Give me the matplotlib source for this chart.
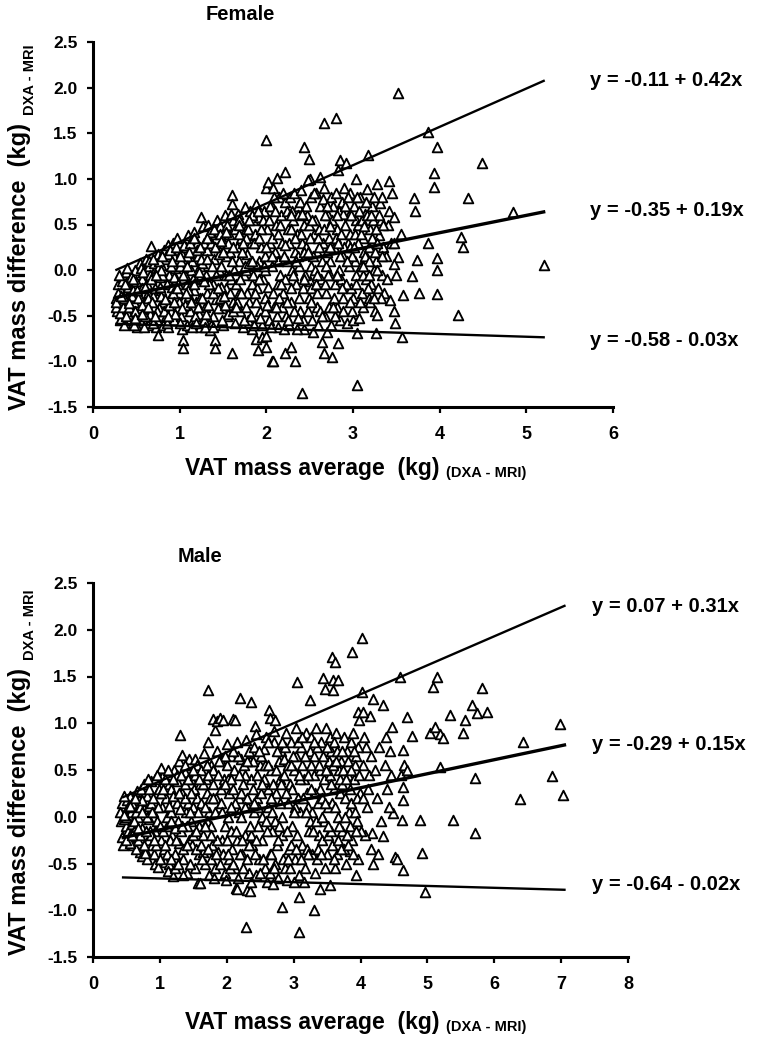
import matplotlib
matplotlib.use('Agg')
import matplotlib.pyplot as plt

plt.rcParams['font.family'] = ['Liberation Sans', 'DejaVu Sans']
plt.rcParams['font.weight'] = 'bold'

# Female: (VAT mass average, VAT mass difference)
female_pts = [
    (0.27,-0.30),(0.28,-0.45),(0.30,-0.38),(0.32,-0.22),(0.29,-0.15),(0.33,-0.50),(0.35,-0.08),(0.31,-0.55),(0.34,-0.33),(0.27,-0.40),
    (0.37,-0.25),(0.39,-0.42),(0.41,-0.12),(0.43,-0.55),(0.38,-0.02),(0.42,-0.32),(0.44,-0.20),(0.40,-0.48),(0.36,-0.60),(0.45,-0.05),
    (0.47,-0.35),(0.49,-0.18),(0.52,-0.50),(0.54,0.08),(0.50,-0.05),(0.46,-0.58),(0.53,-0.28),(0.55,-0.42),(0.48,0.00),(0.51,-0.62),
    (0.57,-0.10),(0.59,-0.45),(0.61,0.12),(0.63,-0.25),(0.58,-0.55),(0.60,-0.35),(0.62,-0.02),(0.64,-0.60),(0.56,-0.20),(0.65,0.05),
    (0.67,0.26),(0.68,-0.15),(0.70,-0.40),(0.72,0.10),(0.74,-0.55),(0.69,-0.28),(0.71,0.00),(0.73,-0.62),(0.66,-0.48),(0.75,0.18),(0.75,-0.71),
    (0.77,-0.08),(0.78,0.06),(0.80,-0.35),(0.82,0.22),(0.84,-0.50),(0.79,-0.22),(0.81,-0.60),(0.83,0.12),(0.76,-0.42),(0.85,-0.15),
    (0.87,0.28),(0.89,-0.30),(0.92,0.30),(0.94,-0.55),(0.88,-0.05),(0.90,-0.45),(0.93,0.15),(0.86,-0.62),(0.91,-0.18),(0.95,0.02),
    (0.97,0.35),(0.99,-0.25),(1.01,0.20),(1.03,-0.65),(1.04,-0.77),(1.04,-0.85),(0.98,-0.40),(1.00,0.05),(1.02,-0.50),(0.96,-0.10),(1.05,-0.32),
    (1.07,0.25),(1.10,0.39),(1.12,-0.45),(1.14,0.10),(1.08,-0.15),(1.09,-0.60),(1.11,-0.28),(1.13,0.00),(1.06,-0.05),(1.15,-0.55),
    (1.17,0.42),(1.19,-0.35),(1.21,0.15),(1.23,-0.62),(1.18,-0.10),(1.20,0.30),(1.22,-0.48),(1.24,0.05),(1.16,-0.22),(1.25,0.58),
    (1.27,0.48),(1.29,-0.40),(1.31,0.22),(1.33,0.50),(1.28,-0.55),(1.30,-0.05),(1.32,-0.25),(1.34,0.35),(1.26,0.08),(1.35,-0.66),
    (1.37,0.40),(1.39,-0.15),(1.41,-0.77),(1.41,-0.85),(1.43,0.55),(1.38,-0.50),(1.40,0.12),(1.42,-0.32),(1.44,0.25),(1.36,-0.60),(1.45,0.00),
    (1.47,0.48),(1.49,-0.42),(1.51,0.30),(1.53,-0.20),(1.48,0.05),(1.50,-0.60),(1.52,0.60),(1.54,0.15),(1.46,-0.30),(1.55,-0.50),
    (1.60,0.82),(1.60,0.72),(1.60,-0.91),(1.57,0.40),(1.59,-0.10),(1.62,0.55),(1.64,-0.58),(1.58,0.20),(1.61,-0.35),(1.63,0.00),(1.56,-0.48),
    (1.67,0.62),(1.69,-0.25),(1.71,0.35),(1.73,-0.62),(1.75,0.69),(1.68,0.10),(1.70,-0.45),(1.72,0.50),(1.74,-0.05),(1.66,0.25),
    (1.77,0.45),(1.79,-0.55),(1.81,0.65),(1.83,-0.15),(1.78,0.18),(1.80,-0.35),(1.82,0.30),(1.84,-0.65),(1.76,0.00),(1.85,0.55),
    (1.88,0.73),(1.88,-0.75),(1.90,-0.88),(1.95,-0.73),(1.87,0.40),(1.89,-0.20),(1.91,0.58),(1.93,-0.45),(1.92,0.10),(1.94,0.25),(1.86,-0.60),
    (2.00,1.43),(2.00,0.90),(2.02,0.97),(2.06,-1.00),(2.00,-0.72),(2.00,-0.84),(1.97,0.65),(1.99,-0.30),(2.01,0.45),(2.03,-0.55),(1.98,0.15),(2.04,0.30),(1.96,-0.10),
    (2.08,0.90),(2.08,-1.00),(2.12,1.01),(2.07,0.70),(2.09,-0.40),(2.11,0.50),(2.13,-0.62),(2.10,0.20),(2.14,-0.15),(2.06,0.05),(2.15,0.80),
    (2.22,1.08),(2.22,-0.91),(2.17,0.60),(2.19,-0.25),(2.21,0.75),(2.23,-0.50),(2.18,0.30),(2.20,-0.65),(2.24,0.10),(2.16,-0.05),(2.25,0.45),
    (2.28,-0.84),(2.33,-1.00),(2.27,0.80),(2.29,-0.35),(2.31,0.55),(2.33,0.20),(2.26,-0.60),(2.30,0.00),(2.32,0.85),(2.34,-0.15),(2.35,0.40),
    (2.41,-1.35),(2.43,1.35),(2.37,0.70),(2.39,-0.45),(2.41,0.30),(2.43,-0.65),(2.38,0.05),(2.40,0.88),(2.42,-0.20),(2.44,0.50),(2.36,0.15),
    (2.49,1.22),(2.50,1.00),(2.48,0.99),(2.47,0.60),(2.49,-0.30),(2.51,0.80),(2.53,-0.55),(2.46,0.25),(2.52,0.05),(2.54,-0.68),(2.55,0.40),(2.50,-0.12),
    (2.66,1.61),(2.62,1.02),(2.64,-0.79),(2.57,0.85),(2.59,-0.40),(2.61,0.45),(2.63,-0.10),(2.58,0.20),(2.60,-0.60),(2.62,0.70),(2.56,0.00),(2.65,0.30),
    (2.66,-0.91),(2.70,-0.68),(2.67,0.90),(2.69,-0.25),(2.71,0.60),(2.73,0.10),(2.68,-0.50),(2.72,0.35),(2.74,-0.05),(2.75,0.80),(2.70,0.20),
    (2.80,1.67),(2.83,1.10),(2.85,1.21),(2.76,-0.95),(2.83,-0.80),(2.82,-0.40),(2.77,0.70),(2.79,-0.15),(2.81,0.45),(2.84,0.00),(2.78,0.25),(2.85,-0.55),(2.80,0.85),
    (2.92,1.17),(2.87,0.75),(2.89,-0.30),(2.91,0.50),(2.93,-0.58),(2.88,0.15),(2.90,0.90),(2.94,0.30),(2.86,-0.10),(2.95,0.60),
    (3.03,1.00),(3.05,-0.69),(3.05,-1.26),(2.97,0.40),(2.99,-0.45),(3.01,0.70),(3.02,0.10),(2.98,-0.20),(3.04,0.55),(2.96,0.85),(3.00,-0.55),
    (3.07,-0.52),(3.08,0.80),(3.10,-0.25),(3.12,0.35),(3.14,0.62),(3.09,0.05),(3.11,-0.40),(3.13,0.20),(3.06,0.50),(3.15,-0.10),
    (3.17,1.26),(3.16,0.89),(3.18,-0.30),(3.20,0.45),(3.22,0.70),(3.24,0.00),(3.19,0.25),(3.21,-0.15),(3.23,0.55),(3.25,-0.45),
    (3.26,-0.69),(3.28,-0.49),(3.28,0.94),(3.31,0.74),(3.30,0.38),(3.27,0.10),(3.29,-0.20),(3.32,0.55),(3.34,0.80),(3.33,-0.05),(3.35,0.25),
    (3.41,0.98),(3.45,0.85),(3.40,0.50),(3.43,-0.33),(3.38,0.15),(3.36,-0.25),(3.42,0.65),(3.39,-0.10),(3.44,0.30),
    (3.52,1.94),(3.47,0.58),(3.47,0.30),(3.52,0.14),(3.47,0.07),(3.50,-0.05),(3.47,-0.45),(3.49,-0.58),(3.56,-0.73),(3.58,-0.27),(3.55,0.40),
    (3.70,0.79),(3.72,0.65),(3.74,0.11),(3.68,-0.06),(3.76,-0.25),(3.87,1.51),(3.97,1.35),(3.93,1.06),(3.93,0.91),(3.87,0.30),
    (3.97,0.13),(3.97,0.00),(3.97,-0.26),(4.21,-0.49),(4.25,0.36),(4.27,0.25),(4.33,0.79),(4.49,1.17),(4.85,0.64),(5.20,0.06),
    # second layer of the dense core
    (0.26,-0.35),(0.29,-0.25),(0.31,-0.47),(0.33,-0.12),(0.35,-0.40),(0.30,-0.05),
    (0.36,-0.30),(0.38,-0.50),(0.40,-0.18),(0.42,-0.40),(0.44,-0.08),(0.45,-0.28),(0.39,0.02),
    (0.46,-0.22),(0.48,-0.45),(0.50,-0.12),(0.52,-0.30),(0.54,-0.55),(0.55,0.02),(0.47,-0.60),
    (0.56,-0.38),(0.58,-0.02),(0.60,-0.50),(0.62,-0.15),(0.64,-0.30),(0.65,0.10),(0.59,-0.62),
    (0.66,-0.05),(0.68,-0.35),(0.70,0.08),(0.72,-0.20),(0.74,-0.45),(0.75,0.02),(0.69,-0.58),
    (0.76,0.10),(0.78,-0.28),(0.80,-0.05),(0.82,-0.45),(0.84,0.15),(0.85,-0.58),(0.79,0.00),
    (0.86,0.18),(0.88,-0.38),(0.90,0.05),(0.92,-0.25),(0.94,-0.08),(0.95,-0.48),(0.89,0.22),
    (0.96,0.25),(0.98,-0.15),(1.00,-0.58),(1.02,0.10),(1.04,-0.05),(1.05,0.28),(0.99,-0.35),
    (1.06,-0.38),(1.08,0.15),(1.10,-0.22),(1.12,0.30),(1.14,-0.62),(1.15,-0.10),(1.09,0.05),
    (1.16,0.35),(1.18,-0.50),(1.20,0.22),(1.22,-0.02),(1.24,-0.30),(1.25,0.12),(1.19,-0.58),
    (1.26,-0.30),(1.28,0.30),(1.30,-0.48),(1.32,0.12),(1.34,-0.15),(1.35,0.42),(1.29,-0.62),
    (1.36,0.30),(1.38,-0.25),(1.40,0.45),(1.42,-0.05),(1.44,-0.42),(1.45,0.18),(1.39,-0.62),
    (1.46,0.40),(1.48,-0.18),(1.50,0.20),(1.52,-0.38),(1.54,-0.05),(1.55,0.50),(1.49,-0.55),
    (1.56,0.30),(1.58,-0.25),(1.60,0.10),(1.62,-0.45),(1.64,0.45),(1.65,-0.15),(1.59,0.62),
    (1.66,-0.35),(1.68,0.40),(1.70,-0.10),(1.72,0.20),(1.74,-0.55),(1.75,0.05),(1.69,0.55),
    (1.76,0.35),(1.78,-0.25),(1.80,0.08),(1.82,-0.50),(1.84,0.60),(1.85,-0.05),(1.79,0.45),
    (1.86,0.30),(1.88,-0.35),(1.90,0.65),(1.92,-0.10),(1.94,0.45),(1.95,-0.60),(1.89,0.05),
    (1.96,0.55),(1.98,-0.45),(2.00,0.25),(2.02,-0.18),(2.04,0.70),(2.05,-0.62),(1.99,0.00),
    (2.06,0.35),(2.08,-0.25),(2.10,0.65),(2.12,-0.50),(2.14,0.10),(2.15,-0.30),(2.09,0.80),
    (2.16,0.50),(2.18,-0.40),(2.20,0.15),(2.22,-0.10),(2.24,0.65),(2.25,-0.55),(2.19,0.85),
    (2.26,0.30),(2.28,-0.20),(2.30,0.65),(2.32,-0.45),(2.34,0.10),(2.35,-0.65),(2.29,0.45),
    (2.36,0.60),(2.38,-0.30),(2.40,0.40),(2.42,-0.55),(2.44,0.20),(2.45,-0.05),(2.39,0.75),
    (2.46,0.70),(2.48,-0.45),(2.50,0.35),(2.52,-0.20),(2.54,0.15),(2.55,0.85),(2.49,0.50),
    (2.56,0.55),(2.58,-0.25),(2.60,0.35),(2.62,-0.45),(2.64,0.10),(2.65,0.78),(2.59,-0.05),
    (2.66,0.45),(2.68,-0.15),(2.70,0.70),(2.72,-0.40),(2.74,0.25),(2.75,-0.60),(2.69,0.05),
    (2.76,0.55),(2.78,-0.30),(2.80,0.35),(2.82,-0.05),(2.84,0.65),(2.85,0.15),(2.79,-0.50),
    (2.86,0.40),(2.88,-0.45),(2.90,0.25),(2.92,-0.15),(2.94,0.80),(2.95,0.05),(2.89,0.62),
    (2.96,0.25),(2.98,0.60),(3.00,-0.30),(3.02,0.40),(3.04,-0.05),(3.05,0.80),(2.99,0.15),
    (3.06,0.30),(3.08,-0.35),(3.10,0.55),(3.12,-0.05),(3.14,0.15),(3.15,0.75),(3.09,0.40),
    (3.16,0.60),(3.18,0.10),(3.20,-0.35),(3.22,0.35),(3.24,0.80),(3.25,0.20),(3.19,-0.05),
    (3.26,0.45),(3.28,0.00),(3.30,0.60),(3.32,-0.30),(3.34,0.15),(3.35,0.50),
    # third layer, around the mean line
    (0.32,-0.28),(0.37,-0.15),(0.41,-0.36),(0.46,-0.10),(0.49,-0.52),
    (0.51,-0.22),(0.56,-0.48),(0.60,-0.18),(0.63,-0.40),(0.67,-0.10),(0.69,0.12),
    (0.71,-0.50),(0.73,-0.05),(0.77,-0.18),(0.80,0.15),(0.83,-0.32),(0.87,-0.50),
    (0.91,0.10),(0.93,-0.35),(0.97,-0.20),(1.00,0.15),(1.03,-0.42),(1.07,-0.25),
    (1.11,0.20),(1.13,-0.35),(1.17,-0.15),(1.21,-0.40),(1.24,0.25),(1.28,-0.12),
    (1.31,0.35),(1.33,-0.38),(1.37,0.05),(1.41,0.25),(1.44,-0.20),(1.48,0.32),
    (1.51,-0.28),(1.53,0.42),(1.57,-0.05),(1.61,0.25),(1.65,-0.40),(1.68,0.50),
    (1.71,-0.25),(1.73,0.30),(1.77,-0.40),(1.80,0.55),(1.83,0.10),(1.87,-0.25),
    (1.91,0.35),(1.93,-0.52),(1.97,0.05),(2.01,-0.38),(2.03,0.55),(2.07,0.15),
    (2.11,-0.40),(2.13,0.40),(2.17,-0.15),(2.21,0.28),(2.24,-0.35),(2.28,0.60),
    (2.31,-0.05),(2.33,0.35),(2.37,-0.52),(2.41,0.62),(2.44,-0.10),(2.48,0.20),
    (2.51,-0.35),(2.53,0.55),(2.57,-0.15),(2.61,0.25),(2.64,-0.50),(2.68,0.60),
    (2.71,-0.05),(2.73,0.48),(2.77,-0.40),(2.81,0.60),(2.83,0.30),(2.87,-0.20),
    (2.91,0.70),(2.93,0.10),(2.97,-0.35),(3.01,0.25),(3.03,-0.15),(3.07,0.65),
    (3.11,0.05),(3.13,0.48),(3.17,-0.20),(3.21,0.60),(3.24,-0.30),(3.28,0.30),
]

# Male: (VAT mass average, VAT mass difference)
male_pts = [
    (0.42,-0.05),(0.44,0.08),(0.46,-0.18),(0.48,0.12),(0.50,-0.10),(0.52,0.02),(0.54,-0.25),(0.45,-0.30),(0.43,0.15),(0.47,-0.02),(0.51,0.18),(0.53,-0.15),
    (0.56,0.22),(0.58,-0.08),(0.60,-0.30),(0.62,0.10),(0.64,-0.20),(0.66,0.28),(0.68,0.00),(0.70,-0.38),(0.57,0.05),(0.61,-0.15),(0.65,-0.35),(0.69,0.18),
    (0.72,0.30),(0.74,-0.12),(0.76,0.08),(0.78,-0.36),(0.80,0.22),(0.82,-0.25),(0.84,-0.02),(0.73,-0.42),(0.77,0.35),(0.81,-0.45),(0.83,0.12),(0.78,-0.39),
    (0.86,0.38),(0.88,-0.30),(0.90,0.05),(0.92,-0.15),(0.93,-0.50),(0.95,0.25),(0.97,-0.54),(0.99,0.42),(0.87,0.15),(0.91,-0.40),(0.96,-0.05),(0.98,0.30),
    (1.01,-0.25),(1.03,0.10),(1.05,0.45),(1.07,-0.48),(1.09,0.20),(1.11,-0.10),(1.13,0.35),(1.14,-0.50),(1.02,0.52),(1.06,-0.35),(1.10,0.00),(1.12,-0.58),
    (1.16,0.30),(1.18,-0.20),(1.19,-0.63),(1.21,0.50),(1.23,-0.40),(1.25,0.15),(1.27,-0.05),(1.29,0.60),(1.17,0.05),(1.22,-0.55),(1.26,0.38),(1.28,-0.28),
    (1.30,0.87),(1.33,0.66),(1.31,-0.15),(1.33,0.25),(1.35,-0.45),(1.37,0.48),(1.39,0.05),(1.41,-0.60),(1.43,0.62),(1.44,-0.25),(1.34,-0.62),(1.38,0.35),(1.42,0.15),
    (1.52,0.62),(1.57,-0.71),(1.60,-0.71),(1.46,0.40),(1.48,-0.30),(1.50,0.10),(1.53,-0.55),(1.55,0.55),(1.58,-0.10),(1.47,-0.05),(1.51,0.30),(1.56,0.20),(1.59,-0.40),
    (1.72,1.36),(1.72,0.80),(1.62,0.50),(1.64,-0.20),(1.66,0.68),(1.68,-0.50),(1.70,0.25),(1.73,-0.62),(1.74,0.05),(1.61,0.15),(1.65,-0.38),(1.69,0.40),(1.71,-0.05),
    (1.82,0.93),(1.80,1.05),(1.86,1.02),(1.90,1.06),(1.76,0.55),(1.78,-0.30),(1.80,0.35),(1.83,-0.55),(1.85,0.70),(1.88,0.10),(1.77,-0.10),(1.81,-0.65),(1.84,0.20),(1.87,-0.38),
    (1.95,1.03),(1.91,0.60),(1.93,-0.25),(1.96,0.40),(1.98,-0.60),(2.00,0.78),(2.02,0.00),(2.04,-0.45),(1.92,0.15),(1.97,-0.10),(2.01,0.55),(2.03,0.25),(1.99,-0.68),
    (2.09,1.05),(2.12,1.04),(2.14,-0.76),(2.16,-0.77),(2.20,1.27),(2.06,0.65),(2.08,-0.35),(2.10,0.30),(2.13,-0.55),(2.15,0.80),(2.18,0.05),(2.07,-0.15),(2.11,0.50),(2.17,-0.65),(2.19,0.20),
    (2.29,-1.18),(2.31,-0.78),(2.35,-0.79),(2.37,1.23),(2.21,0.62),(2.23,-0.40),(2.25,0.35),(2.27,-0.20),(2.29,0.82),(2.32,0.10),(2.34,-0.60),(2.22,0.00),(2.26,0.55),(2.30,-0.45),(2.33,0.70),
    (2.42,0.97),(2.36,0.40),(2.38,-0.30),(2.40,0.75),(2.43,-0.62),(2.45,0.20),(2.47,-0.10),(2.49,0.55),(2.37,-0.70),(2.41,0.05),(2.44,0.88),(2.48,-0.45),(2.39,0.30),
    (2.63,1.14),(2.65,1.06),(2.51,0.65),(2.53,-0.25),(2.55,0.40),(2.57,-0.55),(2.59,0.85),(2.61,0.10),(2.64,-0.40),(2.52,0.00),(2.56,0.72),(2.60,-0.70),(2.62,0.30),
    (2.72,1.03),(2.66,0.50),(2.68,-0.15),(2.70,0.80),(2.72,-0.50),(2.74,0.25),(2.76,-0.65),(2.78,0.60),(2.67,0.05),(2.71,0.92),(2.75,-0.30),(2.79,0.40),(2.69,-0.72),
    (2.82,-0.97),(2.81,0.70),(2.83,-0.20),(2.85,0.45),(2.87,-0.55),(2.89,0.90),(2.91,0.15),(2.93,-0.35),(2.82,0.00),(2.86,0.62),(2.90,-0.68),(2.94,0.35),
    (3.05,1.44),(3.08,-0.86),(3.08,-1.23),(2.96,0.80),(2.98,-0.10),(3.00,0.50),(3.02,-0.45),(3.04,0.95),(3.06,0.20),(3.08,-0.62),(2.97,0.30),(3.01,-0.70),(3.03,0.65),(3.09,0.05),
    (3.24,1.25),(3.11,0.75),(3.13,-0.30),(3.15,0.40),(3.17,-0.55),(3.19,0.90),(3.21,0.10),(3.23,-0.15),(3.12,0.55),(3.16,-0.70),(3.20,0.25),(3.24,0.70),
    (3.31,-1.00),(3.26,0.85),(3.28,-0.40),(3.30,0.45),(3.32,-0.60),(3.34,0.95),(3.36,0.15),(3.38,-0.20),(3.27,0.05),(3.31,0.65),(3.35,-0.45),(3.39,0.30),(3.40,-0.77),
    (3.44,1.48),(3.47,1.37),(3.54,-0.73),(3.41,0.80),(3.43,-0.25),(3.45,0.40),(3.47,-0.55),(3.49,0.95),(3.51,0.10),(3.53,0.60),(3.42,0.20),(3.46,-0.05),(3.50,-0.40),(3.54,0.85),
    (3.57,1.71),(3.62,1.65),(3.59,1.46),(3.66,1.46),(3.59,1.36),(3.56,0.70),(3.58,-0.30),(3.60,0.30),(3.62,-0.55),(3.64,0.90),(3.66,0.00),(3.68,0.50),(3.57,0.15),(3.61,0.80),(3.65,-0.40),(3.69,0.25),
    (3.84,-0.37),(3.71,0.60),(3.73,-0.15),(3.75,0.85),(3.77,0.20),(3.79,-0.50),(3.81,0.45),(3.83,0.05),(3.72,0.35),(3.76,-0.35),(3.80,0.70),(3.85,-0.10),
    (3.87,1.76),(4.02,1.91),(4.02,1.33),(3.96,1.12),(3.98,1.04),(3.94,-0.62),(3.86,0.80),(3.88,-0.25),(3.90,0.40),(3.92,0.05),(3.94,0.65),(3.97,-0.45),(3.99,0.25),(3.89,0.90),(3.95,-0.05),
    (4.14,1.08),(4.19,1.26),(4.04,1.12),(4.18,-0.50),(4.17,-0.17),(4.03,0.55),(4.06,-0.20),(4.08,0.75),(4.10,0.10),(4.12,0.45),(4.15,-0.35),(4.05,0.85),(4.11,0.30),(4.16,0.65),
    (4.34,1.20),(4.33,-0.21),(4.47,0.96),(4.48,0.04),(4.22,0.50),(4.25,0.20),(4.28,0.75),(4.30,-0.05),(4.36,0.55),(4.40,0.30),(4.44,0.70),(4.26,-0.40),(4.38,0.85),(4.42,0.10),(4.45,0.45),(4.51,-0.43),(4.55,-0.45),
    (4.59,1.50),(4.63,-0.57),(4.62,-0.03),(4.63,0.18),(4.63,0.32),(4.60,0.45),(4.65,0.55),(4.70,0.50),(4.63,0.71),(4.69,1.07),(4.77,0.86),
    (4.89,-0.04),(4.92,-0.39),(4.96,-0.80),(5.04,0.90),(5.08,1.39),(5.14,1.50),(5.11,0.96),(5.19,0.88),(5.23,0.84),(5.19,0.53),(5.34,1.09),
    (5.38,-0.04),(5.53,0.90),(5.56,1.04),(5.66,1.20),(5.71,0.41),(5.71,-0.17),(5.74,1.11),(5.81,1.38),(5.89,1.12),(6.38,0.19),(6.43,0.80),
    (6.86,0.44),(6.98,0.99),(7.03,0.23),
    # second layer of the dense core
    (0.41,0.05),(0.44,-0.22),(0.47,0.22),(0.50,0.00),(0.53,0.10),(0.55,-0.20),
    (0.56,-0.28),(0.59,0.15),(0.62,-0.05),(0.65,0.05),(0.67,-0.25),(0.70,0.10),
    (0.71,-0.20),(0.74,0.18),(0.77,-0.30),(0.80,0.00),(0.83,0.30),(0.85,-0.15),
    (0.86,-0.20),(0.89,0.20),(0.92,0.40),(0.94,-0.30),(0.97,0.10),(1.00,-0.45),
    (1.01,0.25),(1.04,-0.15),(1.08,0.40),(1.10,-0.40),(1.13,0.12),(1.15,-0.25),
    (1.16,-0.45),(1.19,0.22),(1.22,-0.12),(1.25,0.45),(1.27,-0.50),(1.30,0.08),
    (1.31,0.45),(1.34,-0.35),(1.37,0.20),(1.40,-0.10),(1.42,0.40),(1.45,-0.50),
    (1.46,0.25),(1.49,-0.20),(1.52,0.45),(1.54,-0.35),(1.57,0.05),(1.60,0.35),
    (1.61,-0.30),(1.64,0.35),(1.67,-0.10),(1.70,0.55),(1.72,-0.35),(1.75,0.20),
    (1.76,-0.45),(1.79,0.50),(1.82,0.05),(1.85,-0.25),(1.87,0.45),(1.90,-0.50),
    (1.91,0.30),(1.94,-0.40),(1.97,0.65),(2.00,-0.25),(2.02,0.40),(2.05,-0.55),
    (2.06,0.40),(2.09,-0.50),(2.12,0.15),(2.15,-0.25),(2.17,0.65),(2.20,-0.40),
    (2.21,0.25),(2.24,-0.55),(2.27,0.45),(2.30,0.20),(2.33,-0.30),(2.35,0.60),
    (2.36,-0.20),(2.39,0.60),(2.42,-0.40),(2.45,0.45),(2.47,0.10),(2.50,-0.60),
    (2.51,0.25),(2.54,-0.45),(2.57,0.55),(2.60,-0.15),(2.62,0.80),(2.65,-0.60),
    (2.66,-0.40),(2.69,0.35),(2.72,-0.05),(2.75,0.70),(2.77,-0.25),(2.80,0.15),
    (2.81,0.35),(2.84,-0.45),(2.87,0.75),(2.90,-0.15),(2.92,0.55),(2.95,-0.55),
    (2.96,-0.30),(2.99,0.65),(3.02,0.10),(3.05,-0.20),(3.07,0.80),(3.10,0.40),
    (3.11,-0.45),(3.14,0.20),(3.17,0.65),(3.20,-0.35),(3.22,0.45),(3.25,-0.05),
    (3.26,0.55),(3.29,-0.15),(3.32,0.25),(3.35,0.75),(3.37,-0.35),(3.40,0.50),
    (3.41,-0.40),(3.44,0.65),(3.47,0.15),(3.50,0.75),(3.52,-0.20),(3.55,0.45),
    (3.56,-0.15),(3.59,0.55),(3.62,0.10),(3.65,0.70),(3.67,-0.25),(3.70,0.40),
    (3.71,-0.35),(3.74,0.50),(3.77,0.00),(3.80,-0.20),(3.82,0.60),(3.85,0.30),
    (3.86,0.15),(3.89,-0.40),(3.92,0.55),(3.95,0.20),(3.97,0.75),(4.00,-0.15),
    # third layer, around the mean line
    (0.46,0.02),(0.49,-0.25),(0.55,0.12),(0.59,-0.20),(0.63,0.20),(0.68,-0.12),(0.73,0.05),
    (0.79,-0.15),(0.82,0.40),(0.88,0.05),(0.91,-0.25),(0.95,0.45),(1.00,-0.10),(1.04,0.30),
    (1.08,-0.30),(1.12,0.50),(1.16,-0.05),(1.20,0.40),(1.24,-0.25),(1.28,0.25),(1.33,-0.10),
    (1.38,0.55),(1.41,-0.30),(1.45,0.05),(1.50,0.50),(1.54,-0.15),(1.58,0.40),(1.63,-0.45),
    (1.68,0.10),(1.72,0.45),(1.76,-0.20),(1.80,0.20),(1.84,-0.40),(1.88,0.60),(1.93,0.05),
    (1.98,0.35),(2.02,-0.40),(2.06,0.10),(2.10,0.70),(2.14,-0.15),(2.18,0.45),(2.23,-0.25),
    (2.28,0.10),(2.31,0.60),(2.35,-0.10),(2.40,0.15),(2.44,-0.25),(2.48,0.70),(2.53,0.35),
    (2.58,-0.05),(2.62,0.55),(2.66,0.20),(2.70,-0.55),(2.74,0.50),(2.78,-0.10),(2.83,0.80),
    (2.88,0.25),(2.92,-0.45),(2.96,0.55),(3.00,0.05),(3.04,-0.35),(3.08,0.45),(3.13,0.85),
    (3.18,0.05),(3.22,-0.40),(3.26,0.30),(3.30,0.80),(3.34,-0.05),(3.38,0.55),(3.43,0.00),
    (3.48,0.50),(3.52,-0.10),(3.56,0.35),(3.60,-0.45),(3.64,0.60),(3.68,-0.10),(3.73,0.70),
    (3.78,0.40),(3.82,-0.30),(3.86,0.50),(3.90,0.70),(3.94,-0.15),(3.98,0.45),(4.03,0.20),
]

# regression lines: (intercept, slope) for upper limit, mean, lower limit
female_fits = [(-0.11, 0.42), (-0.35, 0.19), (-0.58, -0.03)]
male_fits = [(0.07, 0.31), (-0.29, 0.15), (-0.64, -0.02)]
female_span = [0.27, 5.2]
male_span = [0.45, 7.05]

y_ticks = [-1.5, -1.0, -0.5, 0.0, 0.5, 1.0, 1.5, 2.0, 2.5]
female_x_ticks = [0, 1, 2, 3, 4, 5, 6]
male_x_ticks = [0, 1, 2, 3, 4, 5, 6, 7, 8]

W, H = 779, 1050
fig = plt.figure(figsize=(W / 100, H / 100), dpi=100)


def fx(px):
    return px / W


def fy(py):
    return 1 - py / H


def draw_panel(rect, pts, fits, span, xticks, title, title_xy, eq_x, eq_ys, ylab_bottom, xlab_y):
    ax = fig.add_axes(rect)
    xs = [p[0] for p in pts]
    ys = [p[1] for p in pts]
    ax.scatter(xs, ys, marker='^', s=48, facecolors='white', edgecolors='black',
               linewidths=1.35, zorder=2, clip_on=False)
    for (b, m), lw in zip(fits, [1.7, 2.4, 1.7]):
        ax.plot(span, [b + m * x for x in span], color='black', lw=lw, zorder=3)
    ax.set_xlim(xticks[0], xticks[-1])
    ax.set_ylim(y_ticks[0], y_ticks[-1])
    ax.set_xticks(xticks)
    ax.set_xticklabels([str(t) for t in xticks])
    ax.set_yticks(y_ticks)
    ax.set_yticklabels(['%.1f' % t for t in y_ticks])
    for s in ['top', 'right']:
        ax.spines[s].set_visible(False)
    for s in ['left', 'bottom']:
        ax.spines[s].set_linewidth(2.2)
    ax.tick_params(axis='y', direction='out', length=4, width=1.6, pad=7, labelsize=12.5)
    ax.tick_params(axis='x', direction='out', length=4, width=1.6, pad=10, labelsize=13)
    for lab in ax.get_xticklabels() + ax.get_yticklabels():
        lab.set_fontweight('bold')

    fig.text(fx(title_xy[0]), fy(title_xy[1]), title, fontsize=14.5, fontweight='bold',
             ha='center', va='center')
    for (b, m), ey in zip(fits, eq_ys):
        sign = '+' if m >= 0 else '-'
        fig.text(fx(eq_x), fy(ey), 'y = %.2f %s %.2fx' % (b, sign, abs(m)),
                 fontsize=14.5, fontweight='bold', ha='left', va='center')

    # y axis label with small DXA - MRI suffix
    yl = fig.text(fx(20), fy(ylab_bottom), 'VAT mass difference  (kg)', rotation=90,
                  fontsize=17, fontweight='bold', ha='center', va='bottom')
    fig.canvas.draw()
    bb = yl.get_window_extent(fig.canvas.get_renderer())
    fig.text(fx(30), (bb.y1 + 8) / H, 'DXA - MRI', rotation=90, fontsize=10.5,
             fontweight='bold', ha='center', va='bottom')

    # x axis label with small (DXA - MRI) suffix
    xl = fig.text(fx(185), fy(xlab_y), 'VAT mass average  (kg)', fontsize=16.5,
                  fontweight='bold', ha='left', va='center')
    fig.canvas.draw()
    bb = xl.get_window_extent(fig.canvas.get_renderer())
    fig.text((bb.x1 + 6) / W, fy(xlab_y + 5), '(DXA - MRI)', fontsize=10.5,
             fontweight='bold', ha='left', va='center')
    return ax


draw_panel([fx(93), fy(407), fx(613) - fx(93), fy(42) - fy(407)],
           female_pts, female_fits, female_span, female_x_ticks,
           'Female', (240, 15), 590, [80, 210, 340], 410, 468)
draw_panel([fx(93), fy(957), fx(628) - fx(93), fy(583) - fy(957)],
           male_pts, male_fits, male_span, male_x_ticks,
           'Male', (200, 557), 592, [607, 745, 885], 955, 1022)

fig.savefig('out.png', dpi=100, facecolor='white')
